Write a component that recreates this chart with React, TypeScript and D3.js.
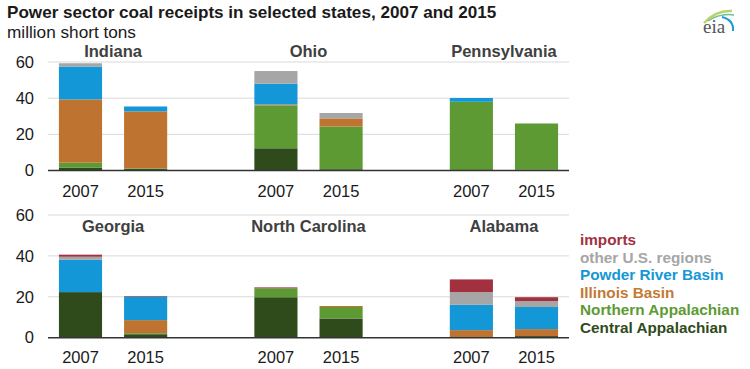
import React from "react";
import * as d3 from "d3";

const states = ["Indiana", "Ohio", "Pennsylvania", "Georgia", "North Carolina", "Alabama"];
const years = ["2007", "2015"];
const seriesNames = [
  "Central Appalachian",
  "Northern Appalachian",
  "Illinois Basin",
  "Powder River Basin",
  "other U.S. regions",
  "imports",
];
const seriesColors = ["#2f4b1c", "#5e9a34", "#bf7330", "#1497d6", "#a6a6a6", "#a3303e"];
const legendTextColors = ["#2f4b1c", "#5e9a34", "#c27a34", "#1497d6", "#a6a6a6", "#a3303e"];

// values per bar, ordered state x year (Indiana 2007, Indiana 2015, Ohio 2007, ...)
const centralAppalachian = [1.5, 0.8, 12.3, 0.7, 0, 0.5, 22.3, 1.7, 19.8, 9.4, 0, 0.8];
const northernAppalachian = [2.8, 0.4, 23.7, 23.6, 38, 25.5, 0, 0.5, 4.4, 5.6, 0, 0];
const illinoisBasin = [35, 31.5, 0.5, 4.5, 0, 0, 0, 6.4, 0, 0.5, 3.7, 3.4];
const powderRiverBasin = [18.2, 2.7, 11.5, 0, 2.1, 0, 15.8, 11.5, 0, 0, 12.4, 10.8];
const otherUS = [1.8, 0, 7, 3, 0, 0, 1.5, 0, 0, 0, 6.2, 2.9];
const imports = [0, 0, 0, 0, 0, 0, 1, 0.3, 0.4, 0, 6.2, 1.9];

const yTicks = [0, 20, 40, 60];

const FONT = "'Liberation Sans', Arial, sans-serif";

const seriesValues = [centralAppalachian, northernAppalachian, illinoisBasin, powderRiverBasin, otherUS, imports];

const rows = states.flatMap((s, si) =>
  years.map((yr, yi) => {
    const idx = si * 2 + yi;
    const row: any = { state: s, year: yr, panel: Math.floor(si / 3), slot: (si % 3) * 3 + yi };
    seriesNames.forEach((n, k) => (row[n] = seriesValues[k][idx]));
    return row;
  })
);

const stack = d3.stack<any>().keys(seriesNames);

const slots = d3.range(8);
const x = d3.scaleBand<number>().domain(slots).range([48.5, 568.5]).paddingInner(0.338).paddingOuter(0.16);

const panels = [
  { y: d3.scaleLinear().domain([0, 60]).range([170.5, 62]), titleY: 57, labelY: 197 },
  { y: d3.scaleLinear().domain([0, 60]).range([337.7, 215]), titleY: 232, labelY: 363 },
];

export default function App() {
  return (
    <svg
      width={750}
      height={369}
      style={{ position: "absolute", left: 0, top: 0, background: "#fff" }}
      fontFamily={FONT}
    >
      <text x={7} y={18} fontSize={17.1} fontWeight="bold" fill="#1a1a1a">
        Power sector coal receipts in selected states, 2007 and 2015
      </text>
      <text x={7} y={37.5} fontSize={17.2} fill="#1a1a1a">
        million short tons
      </text>

      {/* eia logo */}
      <g>
        <path d="M704,23 Q716,10 732,11" fill="none" stroke="#b9d36a" strokeWidth={2.5} />
        <path d="M708,21 Q720,13 734,15" fill="none" stroke="#6cbf9a" strokeWidth={1.5} />
        <path d="M722,17 Q734,20 733,31" fill="none" stroke="#1c9ad6" strokeWidth={2} />
        <text x={703} y={33} fontSize={19} fontFamily="'Liberation Serif', 'DejaVu Serif', serif" fill="#555">
          eia
        </text>
      </g>

      {panels.map((p, pi) => {
        const pRows = rows.filter((r) => r.panel === pi);
        const stacked = stack(pRows);
        return (
          <g key={pi}>
            {yTicks.map((t) => (
              <g key={t}>
                {t !== 0 && (
                  <line x1={48} x2={569} y1={p.y(t)} y2={p.y(t)} stroke="#d9d9d9" strokeWidth={1} />
                )}
                <text
                  x={34}
                  y={p.y(t)}
                  dy="0.35em"
                  textAnchor="end"
                  fontSize={16.5}
                  fill="#1a1a1a"
                >
                  {t}
                </text>
              </g>
            ))}
            {stacked.map((layer, k) => (
              <g key={layer.key} fill={seriesColors[k]}>
                {layer.map((d, i) => {
                  const r = pRows[i];
                  const h = p.y(d[0]) - p.y(d[1]);
                  if (h <= 0) return null;
                  return (
                    <rect
                      key={i}
                      x={x(r.slot)}
                      width={x.bandwidth()}
                      y={p.y(d[1])}
                      height={h}
                    />
                  );
                })}
              </g>
            ))}
            <line x1={48} x2={569} y1={p.y(0)} y2={p.y(0)} stroke="#333" strokeWidth={1.6} />
            {pRows.map((r, i) => (
              <text
                key={i}
                x={(x(r.slot) as number) + x.bandwidth() / 2}
                y={p.labelY}
                textAnchor="middle"
                fontSize={16.5}
                fill="#1a1a1a"
              >
                {r.year}
              </text>
            ))}
            {states.slice(pi * 3, pi * 3 + 3).map((s, si) => {
              const a = x(si * 3) as number;
              const b = (x(si * 3 + 1) as number) + x.bandwidth();
              return (
                <text
                  key={s}
                  x={(a + b) / 2}
                  y={p.titleY}
                  textAnchor="middle"
                  fontSize={16.5}
                  fontWeight="bold"
                  fill="#404040"
                >
                  {s}
                </text>
              );
            })}
          </g>
        );
      })}

      {/* legend, top to bottom: imports ... Central Appalachian */}
      {seriesNames
        .map((n, k) => ({ n, k }))
        .reverse()
        .map((d, i) => (
          <text
            key={d.n}
            x={580}
            y={245 + i * 17.6}
            fontSize={15.3}
            fontWeight="bold"
            fill={legendTextColors[d.k]}
          >
            {d.n}
          </text>
        ))}
    </svg>
  );
}
